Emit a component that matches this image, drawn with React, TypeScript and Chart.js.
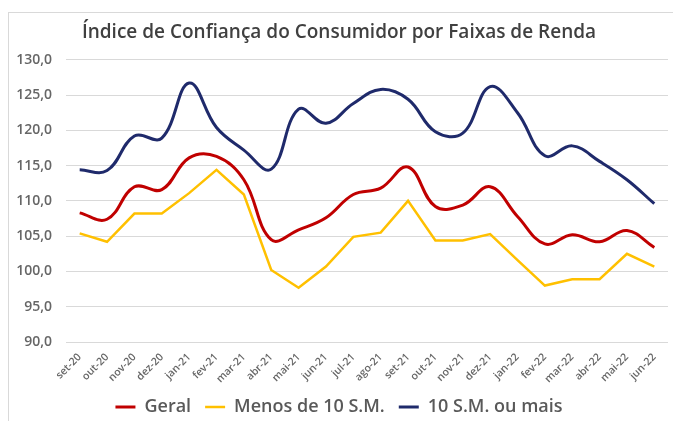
import React, { useEffect, useRef } from "react";
import { Chart, registerables } from "chart.js";

Chart.register(...registerables);

const categories = [
  "set-20", "out-20", "nov-20", "dez-20", "jan-21", "fev-21", "mar-21", "abr-21",
  "mai-21", "jun-21", "jul-21", "ago-21", "set-21", "out-21", "nov-21", "dez-21",
  "jan-22", "fev-22", "mar-22", "abr-22", "mai-22", "jun-22",
];

const geral = [
  108.3, 107.4, 112.0, 111.6, 116.1, 116.3, 113.0, 104.5, 105.9, 107.6, 110.9,
  111.8, 114.8, 109.2, 109.4, 112.0, 107.8, 103.9, 105.2, 104.2, 105.8, 103.4,
];

const menos10 = [
  105.4, 104.2, 108.2, 108.2, 111.1, 114.4, 110.9, 100.2, 97.7, 100.7, 104.9,
  105.5, 110.0, 104.4, 104.4, 105.3, 101.6, 98.0, 98.9, 98.9, 102.5, 100.7,
];

const mais10 = [
  114.4, 114.3, 119.2, 118.9, 126.7, 120.4, 117.2, 114.5, 123.0, 121.0, 123.8,
  125.8, 124.4, 119.8, 119.6, 126.2, 122.5, 116.4, 117.8, 115.6, 113.0, 109.6,
];

const yTicks = [90, 95, 100, 105, 110, 115, 120, 125, 130];

const titleText = "Índice de Confiança do Consumidor por Faixas de Renda";

export default function App() {
  const ref = useRef<HTMLCanvasElement | null>(null);

  useEffect(() => {
    if (!ref.current) return;
    const chart = new Chart(ref.current, {
      type: "line",
      data: {
        labels: categories,
        datasets: [
          {
            label: "Geral",
            data: geral,
            borderColor: "#C00000",
            backgroundColor: "#C00000",
            borderWidth: 3,
            pointRadius: 0,
            tension: 0.4,
          },
          {
            label: "Menos de 10 S.M.",
            data: menos10,
            borderColor: "#FFC000",
            backgroundColor: "#FFC000",
            borderWidth: 2.5,
            pointRadius: 0,
            tension: 0,
          },
          {
            label: "10 S.M. ou mais",
            data: mais10,
            borderColor: "#1F2A6B",
            backgroundColor: "#1F2A6B",
            borderWidth: 3,
            pointRadius: 0,
            tension: 0.4,
          },
        ],
      },
      options: {
        responsive: false,
        animation: false,
        maintainAspectRatio: false,
        layout: { padding: { left: 10, right: 5, top: 0, bottom: -5 } },
        plugins: {
          title: {
            display: true,
            text: titleText,
            color: "#404040",
            font: { family: "'Open Sans', sans-serif", size: 19, weight: "600" },
            padding: { top: 21, bottom: 16 },
          },
          legend: {
            position: "bottom",
            labels: {
              usePointStyle: true,
              pointStyle: "line",
              pointStyleWidth: 20,
              color: "#595959",
              padding: 14,
              font: { family: "'Open Sans', sans-serif", size: 18, weight: "600" },
            },
          },
          tooltip: { enabled: false },
        },
        scales: {
          x: {
            offset: true,
            grid: { display: false },
            border: { display: false },
            ticks: {
              autoSkip: false,
              maxRotation: 45,
              minRotation: 45,
              color: "#666666",
              padding: 1,
              font: { family: "'Open Sans', sans-serif", size: 10.5, weight: "600" },
            },
            afterFit: (s: any) => {
              s.height = 42;
            },
          },
          y: {
            min: 90,
            max: 130,
            afterBuildTicks: (s: any) => {
              s.ticks = yTicks.map((v) => ({ value: v }));
            },
            grid: { color: "#D9D9D9", drawTicks: false, lineWidth: 1 },
            border: { display: false },
            ticks: {
              color: "#666666",
              padding: 14,
              font: { family: "'Open Sans', sans-serif", size: 14, weight: "600" },
              callback: (v: any) => Number(v).toFixed(1).replace(".", ","),
            },
            afterFit: (s: any) => {
              s.width = 56;
            },
          },
        },
      },
    });
    return () => chart.destroy();
  }, []);

  return (
    <div
      style={{
        position: "fixed",
        left: 0,
        top: 0,
        width: 673,
        height: 421,
        background: "#fff",
        overflow: "hidden",
      }}
    >
      <div
        style={{
          position: "absolute",
          left: 8,
          top: 12,
          width: 700,
          height: 440,
          border: "1px solid #D9D9D9",
        }}
      />
      <canvas
        ref={ref}
        width={673}
        height={421}
        style={{ position: "absolute", left: 0, top: 0 }}
      />
    </div>
  );
}
